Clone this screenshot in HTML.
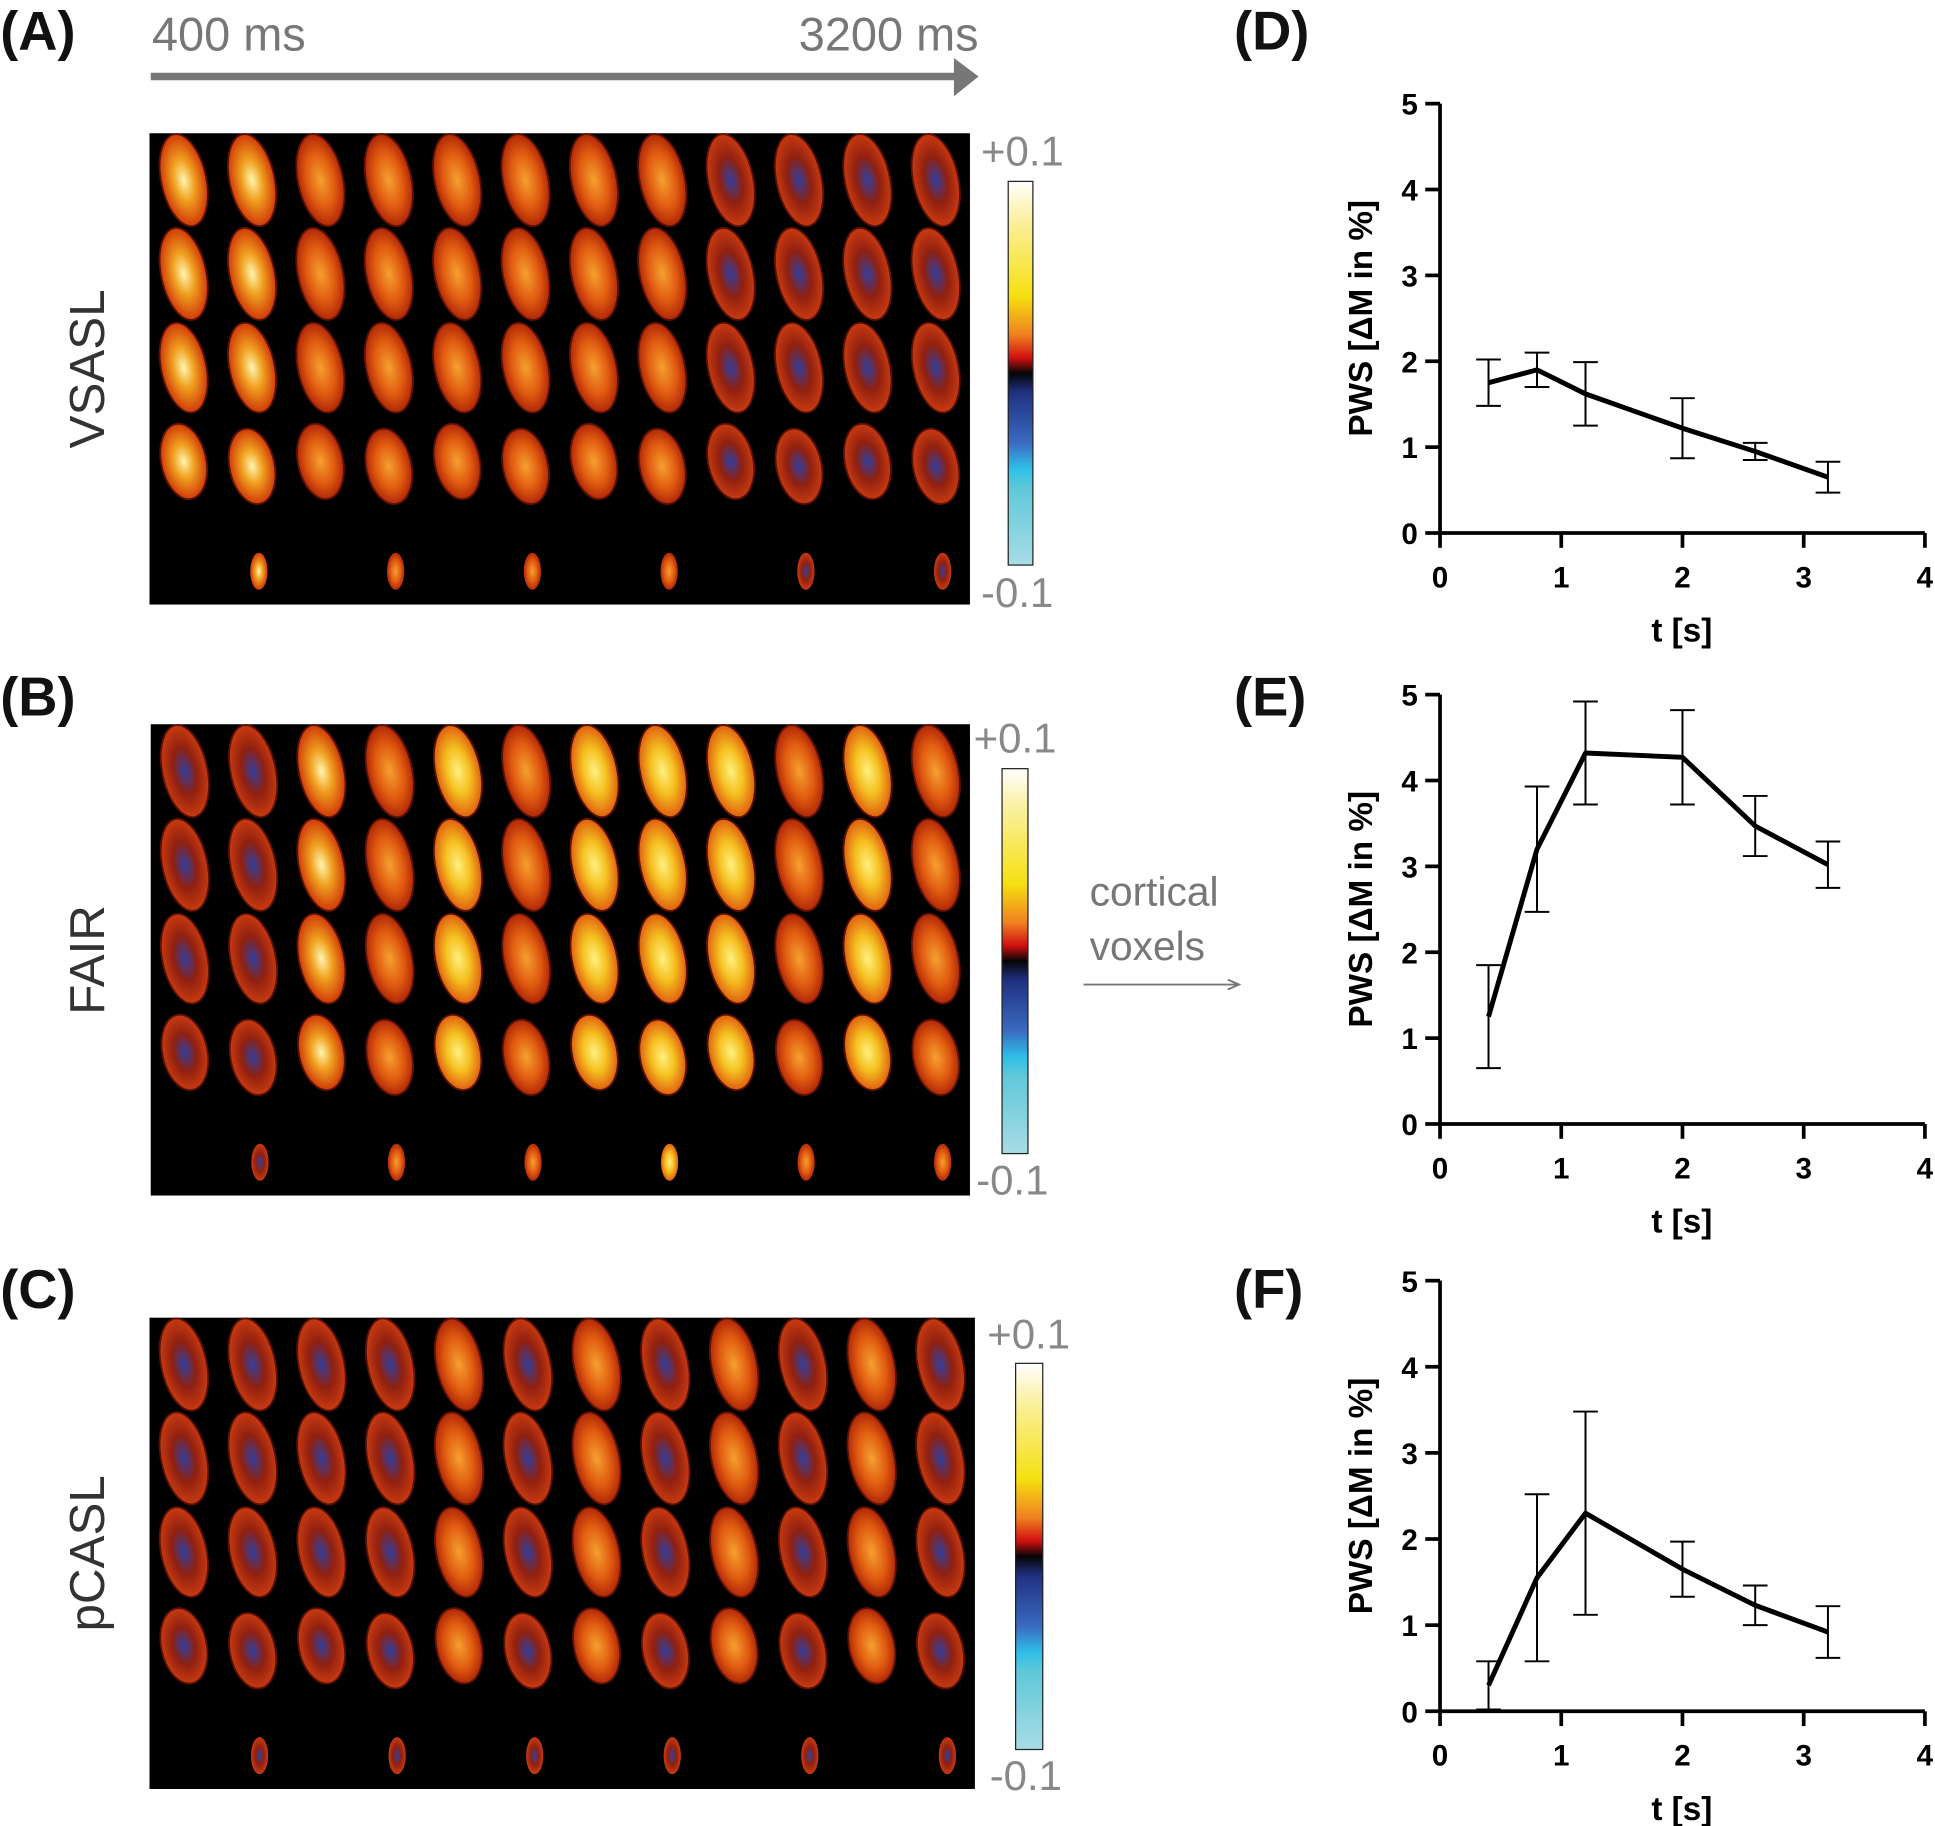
<!DOCTYPE html>
<html><head><meta charset="utf-8"><style>
html,body{margin:0;padding:0;background:#fff}
svg{display:block}
text{font-family:"Liberation Sans",Arial,sans-serif}
</style></head><body>
<svg id="fig" width="1935" height="1826" viewBox="0 0 1568 1480" xmlns="http://www.w3.org/2000/svg">
<defs>
<linearGradient id="cbar" x1="0" y1="0" x2="0" y2="1">
<stop offset="0" stop-color="#ffffff"/><stop offset="0.1" stop-color="#fbf0a0"/><stop offset="0.3" stop-color="#f5e010"/>
<stop offset="0.4" stop-color="#f08020"/><stop offset="0.46" stop-color="#d01010"/><stop offset="0.5" stop-color="#050505"/>
<stop offset="0.55" stop-color="#203080"/><stop offset="0.68" stop-color="#3a6ac0"/><stop offset="0.75" stop-color="#30c0e8"/>
<stop offset="0.8" stop-color="#60c8d8"/><stop offset="1" stop-color="#a8dce6"/></linearGradient>
<radialGradient id="kBright"><stop offset="0" stop-color="#fff6b0"/><stop offset="0.45" stop-color="#f0a020"/><stop offset="1" stop-color="#d03a08"/></radialGradient>
<radialGradient id="kMid"><stop offset="0" stop-color="#f5a030"/><stop offset="0.6" stop-color="#e05a10"/><stop offset="1" stop-color="#b02808"/></radialGradient>
<radialGradient id="kDark"><stop offset="0" stop-color="#3040a0"/><stop offset="0.5" stop-color="#902010"/><stop offset="1" stop-color="#c83a10"/></radialGradient>
<radialGradient id="kYellow"><stop offset="0" stop-color="#fff080"/><stop offset="0.5" stop-color="#f5c020"/><stop offset="1" stop-color="#e06010"/></radialGradient>
</defs>
<g id="left"></g>
<g id="charts"></g>
</svg>
<script>
// chart data
const tValues = [0.4, 0.8, 1.2, 2.0, 2.6, 3.2];
const vsaslMean = [1.75, 1.9, 1.62, 1.22, 0.95, 0.65];
const vsaslErr = [0.27, 0.2, 0.37, 0.35, 0.1, 0.18];
const fairMean = [1.25, 3.2, 4.32, 4.27, 3.47, 3.02];
const fairErr = [0.6, 0.73, 0.6, 0.55, 0.35, 0.27];
const pcaslMean = [0.3, 1.55, 2.3, 1.65, 1.23, 0.92];
const pcaslErr = [0.28, 0.97, 1.18, 0.32, 0.23, 0.3];
const xTicks = ["0","1","2","3","4"];
const yTicks = ["0","1","2","3","4","5"];

const NS = "http://www.w3.org/2000/svg";
function mk(tag, attrs, parent, txt){
  const e = document.createElementNS(NS, tag);
  for (const k in attrs) e.setAttribute(k, attrs[k]);
  if (txt !== undefined) e.textContent = txt;
  parent.appendChild(e);
  return e;
}
const left = document.getElementById('left');
const charts = document.getElementById('charts');

let t;
t = mk('text',{x:123,y:41,'font-size':38,fill:'#777'},left,'400 ms');


t = mk('text',{x:793,y:41,'font-size':38,fill:'#777','text-anchor':'end'},left,'3200 ms');


t = mk('path',{d:'M122 59 H775 V65 H122 Z M773 47 L793 62 L773 78 Z',fill:'#777'},left);



const panels = [
 {lab:'(A)', ly:40, name:'VSASL', box:[121,108,665,382], cb:[817,147,20,311], cbTop:[795,134], cbBot:[795,492], fills:['kBright','kBright','kMid','kMid','kMid','kMid','kMid','kMid','kDark','kDark','kDark','kDark']},
 {lab:'(B)', ly:580, name:'FAIR', box:[122,587,664,382], cb:[812,623,21,312], cbTop:[789,610], cbBot:[791,968], fills:['kDark','kDark','kBright','kMid','kYellow','kMid','kYellow','kYellow','kYellow','kMid','kYellow','kMid']},
 {lab:'(C)', ly:1060, name:'pCASL', box:[121,1068,669,382], cb:[823,1105,22,313], cbTop:[800,1093], cbBot:[802,1451], fills:['kDark','kDark','kDark','kDark','kMid','kDark','kMid','kDark','kMid','kDark','kMid','kDark']}
];
panels.forEach((p,pi)=>{
  const g = mk('g',{},left);
  
  
  let e = mk('text',{x:0,y:p.ly,'font-size':44,'font-weight':'bold',fill:'#111'},g,p.lab);
  
  
  const cy = p.box[1]+p.box[3]/2;
  e = mk('text',{x:0,y:0,'font-size':40,fill:'#333','text-anchor':'middle',transform:`translate(84 ${cy}) rotate(-90)`},g,p.name);
  
  
  e = mk('rect',{x:p.box[0],y:p.box[1],width:p.box[2],height:p.box[3],fill:'#000'},g);
  
  
  const colW = p.box[2]/12;
  const rowsY = [38, 114, 190, 270];
  const rowsH = [38, 38, 37, 31];
  for (let r=0;r<4;r++){
    for (let c=0;c<12;c++){
      const cx = p.box[0]+colW*(c+0.5);
      const cyy = p.box[1]+rowsY[r]+(r==3&&c%2==0?-4:0);
      e = mk('ellipse',{cx:cx,cy:cyy,rx:colW*0.33,ry:rowsH[r],fill:`url(#${p.fills[c]})`,stroke:'#5a1005','stroke-width':1.5,transform:`rotate(-12 ${cx} ${cyy})`},g);
      
      
    }
  }
  for (let c=0;c<6;c++){
    const cx = p.box[0]+colW*(2*c+1.6);
    e = mk('ellipse',{cx:cx,cy:p.box[1]+355,rx:7,ry:15,fill:`url(#${p.fills[2*c+1]})`},g);
    
    
  }
  e = mk('rect',{x:p.cb[0],y:p.cb[1],width:p.cb[2],height:p.cb[3],fill:'url(#cbar)',stroke:'#222','stroke-width':1},g);
  
  
  e = mk('text',{x:p.cbTop[0],y:p.cbTop[1],'font-size':34,fill:'#888'},g,'+0.1');
  
  
  e = mk('text',{x:p.cbBot[0],y:p.cbBot[1],'font-size':34,fill:'#888'},g,'-0.1');
  
  
});
t = mk('text',{x:883,y:734,'font-size':33,fill:'#777'},left,'cortical');


t = mk('text',{x:883,y:778,'font-size':33,fill:'#777'},left,'voxels');


t = mk('path',{d:'M878 798 H1002 M995 794 L1004 798 L995 802',stroke:'#777','stroke-width':1.6,fill:'none'},left);



const chartDefs = [
 {lab:'(D)', labY:40, y0:432, y5:84, mean:vsaslMean, err:vsaslErr, name:'vsasl-chart'},
 {lab:'(E)', labY:580, y0:911, y5:563, mean:fairMean, err:fairErr, name:'fair-chart'},
 {lab:'(F)', labY:1060, y0:1387, y5:1038, mean:pcaslMean, err:pcaslErr, name:'pcasl-chart'}
];
const X0 = 1167, X4 = 1560;
chartDefs.forEach(cd=>{
  const g = mk('g',{},charts);
  
  
  const xs = v => X0 + (X4-X0)*v/4;
  const ys = v => cd.y0 + (cd.y5-cd.y0)*v/5;
  let e = mk('text',{x:1000,y:cd.labY,'font-size':44,'font-weight':'bold',fill:'#111'},g,cd.lab);
  
  
  e = mk('path',{d:`M${X0} ${ys(5)} V${cd.y0} H${X4}`,stroke:'#000','stroke-width':3,fill:'none'},g);
  
  
  yTicks.forEach((lab,i)=>{
    const y = ys(+lab);
    let tk = mk('line',{x1:X0-12,x2:X0,y1:y,y2:y,stroke:'#000','stroke-width':3},g);
    
    
    tk = mk('text',{x:X0-18,y:y+9,'font-size':24,'font-weight':'bold','text-anchor':'end'},g,lab);
    
    
  });
  xTicks.forEach(lab=>{
    const x = xs(+lab);
    let tk = mk('line',{x1:x,x2:x,y1:cd.y0,y2:cd.y0+12,stroke:'#000','stroke-width':3},g);
    
    
    tk = mk('text',{x:x,y:cd.y0+44,'font-size':24,'font-weight':'bold','text-anchor':'middle'},g,lab);
    
    
  });
  e = mk('text',{x:1363,y:cd.y0+88,'font-size':27,'font-weight':'bold','text-anchor':'middle'},g,'t [s]');
  
  
  const my = (cd.y0+cd.y5)/2;
  e = mk('text',{x:0,y:0,'font-size':27,'font-weight':'bold','text-anchor':'middle',transform:`translate(1112 ${my}) rotate(-90)`},g,'PWS [\u0394M in %]');
  
  
  tValues.forEach((tv,i)=>{
    const x = xs(tv), hi = ys(cd.mean[i]+cd.err[i]), lo = ys(cd.mean[i]-cd.err[i]);
    const eb = mk('path',{d:`M${x} ${hi} V${lo} M${x-10} ${hi} H${x+10} M${x-10} ${lo} H${x+10}`,stroke:'#000','stroke-width':1.6,fill:'none'},g);
    
    
  });
  const pts = tValues.map((tv,i)=>`${xs(tv)},${ys(cd.mean[i])}`).join(' ');
  e = mk('polyline',{points:pts,stroke:'#000','stroke-width':4,fill:'none','stroke-linejoin':'round'},g);
  
  
});
</script>
</body></html>
